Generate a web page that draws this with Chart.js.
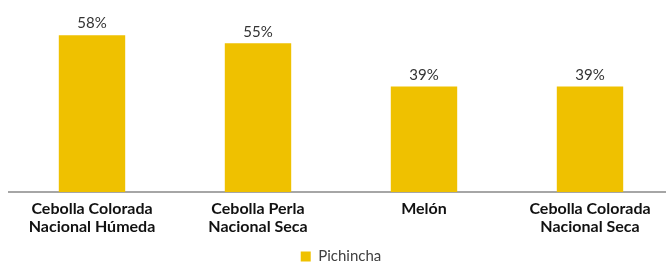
<!DOCTYPE html>
<html>
<head>
<meta charset="utf-8">
<script src="https://cdn.jsdelivr.net/npm/chart.js@4"></script>
<style>
  html, body { margin: 0; padding: 0; background: #fff; overflow: hidden; }
  #wrap { position: relative; width: 673px; height: 262px; }
</style>
</head>
<body>
<div id="wrap"><canvas id="grafica"></canvas></div>
<script>
const categorias = [
  ['Cebolla Colorada', 'Nacional Húmeda'],
  ['Cebolla Perla', 'Nacional Seca'],
  'Melón',
  ['Cebolla Colorada', 'Nacional Seca']
];
const pichincha = [58, 55, 39, 39];
const serieNombre = 'Pichincha';

const amarillo = '#EFC100';
const fuente = 'Lato, "Open Sans", sans-serif';

// etiquetas de valor encima de cada barra
const etiquetas = {
  id: 'etiquetas',
  afterDatasetsDraw(chart) {
    const ctx = chart.ctx;
    ctx.save();
    ctx.font = '15px ' + fuente;
    ctx.fillStyle = '#333';
    ctx.textAlign = 'center';
    ctx.textBaseline = 'bottom';
    chart.getDatasetMeta(0).data.forEach((bar, i) => {
      ctx.fillText(pichincha[i] + '%', bar.x, bar.y - 4);
    });
    ctx.restore();
  }
};

new Chart(document.getElementById('grafica'), {
  type: 'bar',
  data: {
    labels: categorias,
    datasets: [{
      label: serieNombre,
      data: pichincha,
      backgroundColor: amarillo,
      barPercentage: 0.4,
      categoryPercentage: 1
    }]
  },
  options: {
    responsive: true,
    maintainAspectRatio: false,
    animation: false,
    layout: { padding: { left: 9, right: 0, top: 0, bottom: -12 } },
    plugins: {
      tooltip: { enabled: false },
      legend: {
        position: 'bottom',
        labels: {
          boxWidth: 10,
          boxHeight: 10,
          padding: 6,
          color: '#404040',
          font: { family: fuente, size: 15 }
        }
      }
    },
    scales: {
      y: { display: false, min: 0, max: 71 },
      x: {
        grid: { display: false },
        border: { color: '#A6A6A6', width: 2 },
        afterFit(scale) { scale.height = 51; },
        ticks: {
          color: '#111',
          padding: 0,
          maxRotation: 0,
          font: { family: fuente, size: 16, weight: 'bold', lineHeight: 1.12 }
        }
      }
    }
  },
  plugins: [etiquetas]
});
</script>
</body>
</html>
